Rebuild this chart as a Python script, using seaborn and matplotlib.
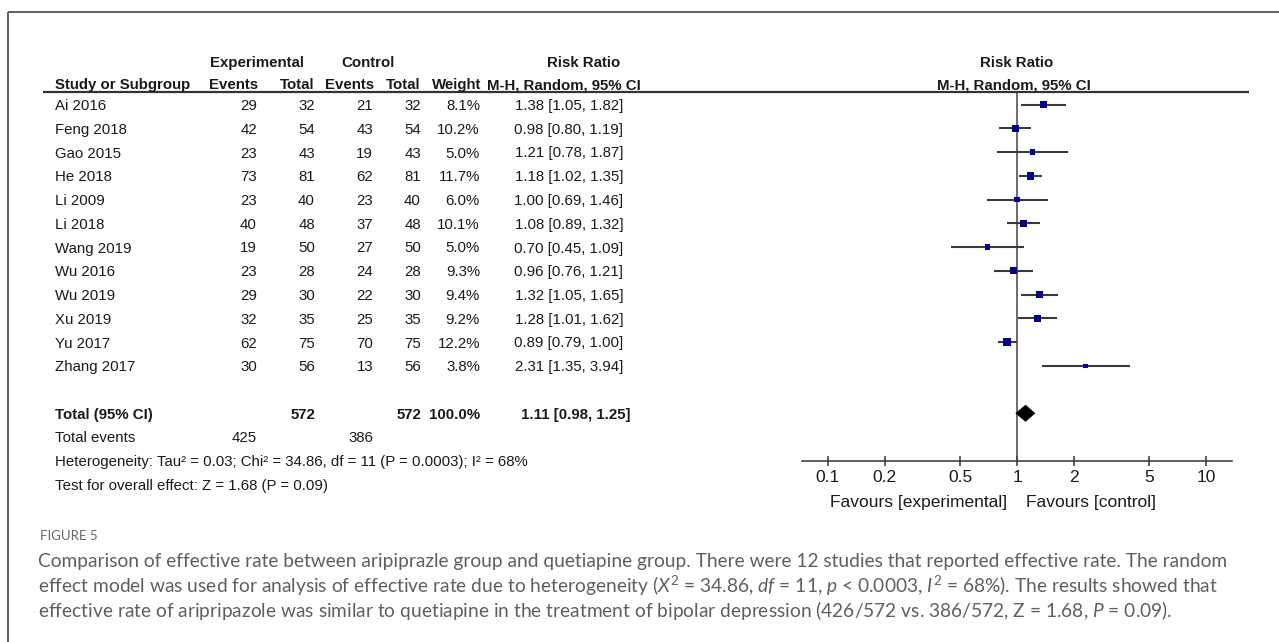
import numpy as np
import pandas as pd
import matplotlib
matplotlib.use("Agg")
import matplotlib.pyplot as plt
import seaborn as sns

# ---- study data -------------------------------------------------------------
studies = ["Ai 2016", "Feng 2018", "Gao 2015", "He 2018", "Li 2009", "Li 2018",
           "Wang 2019", "Wu 2016", "Wu 2019", "Xu 2019", "Yu 2017", "Zhang 2017"]
exp_events = [29, 42, 23, 73, 23, 40, 19, 23, 29, 32, 62, 30]
exp_total = [32, 54, 43, 81, 40, 48, 50, 28, 30, 35, 75, 56]
ctl_events = [21, 43, 19, 62, 23, 37, 27, 24, 22, 25, 70, 13]
ctl_total = [32, 54, 43, 81, 40, 48, 50, 28, 30, 35, 75, 56]
weight = [8.1, 10.2, 5.0, 11.7, 6.0, 10.1, 5.0, 9.3, 9.4, 9.2, 12.2, 3.8]
rr = [1.38, 0.98, 1.21, 1.18, 1.00, 1.08, 0.70, 0.96, 1.32, 1.28, 0.89, 2.31]
ci_lo = [1.05, 0.80, 0.78, 1.02, 0.69, 0.89, 0.45, 0.76, 1.05, 1.01, 0.79, 1.35]
ci_hi = [1.82, 1.19, 1.87, 1.35, 1.46, 1.32, 1.09, 1.21, 1.65, 1.62, 1.00, 3.94]

pooled_rr, pooled_lo, pooled_hi = 1.11, 0.98, 1.25
total_exp, total_ctl = 572, 572
events_exp, events_ctl = 425, 386
heterogeneity = "Heterogeneity: Tau² = 0.03; Chi² = 34.86, df = 11 (P = 0.0003); I² = 68%"
overall = "Test for overall effect: Z = 1.68 (P = 0.09)"

tick_values = [0.1, 0.2, 0.5, 1, 2, 5, 10]
tick_labels = ["0.1", "0.2", "0.5", "1", "2", "5", "10"]

df = pd.DataFrame({"study": studies, "rr": rr, "lo": ci_lo, "hi": ci_hi,
                   "weight": weight})
df["row"] = np.arange(len(df))
total_row = len(df) + 1

# ---- figure & layout (pixel based) ------------------------------------------
sns.set_theme(style="white")
plt.rcParams["font.family"] = ["Liberation Sans", "DejaVu Sans"]
plt.rcParams["mathtext.fontset"] = "custom"
plt.rcParams["mathtext.rm"] = "Lato"
plt.rcParams["mathtext.it"] = "Lato:italic"

W, H = 1279, 642
fig = plt.figure(figsize=(W / 100, H / 100), dpi=100)
bg = fig.add_axes([0, 0, 1, 1])
bg.set_xlim(0, W)
bg.set_ylim(H, 0)
bg.axis("off")

ROW0, ROWH = 104.5, 23.75      # y of first row and row pitch in px
def ry(i):
    return ROW0 + ROWH * i

TXT = "#1a1a1a"
FS = 10.8       # table text
FS_AX = 12.5    # forest-plot labels
DY = 1.5        # optical centring of text on its row

# frame
bg.plot([8, W], [12, 12], color="#444444", lw=1.2, solid_capstyle="butt")
bg.plot([8, 8], [12, H], color="#444444", lw=1.2, solid_capstyle="butt")

# header
hdr_y1, hdr_y2 = 63, 85
bold = dict(fontsize=FS, fontweight="bold", color=TXT, va="center")
bg.text(257, hdr_y1, "Experimental", ha="center", **bold)
bg.text(368, hdr_y1, "Control", ha="center", **bold)
bg.text(584, hdr_y1, "Risk Ratio", ha="center", **bold)
bg.text(1017, hdr_y1, "Risk Ratio", ha="center", **bold)
bg.text(55, hdr_y2, "Study or Subgroup", ha="left", **bold)
bg.text(258, hdr_y2, "Events", ha="right", **bold)
bg.text(315, hdr_y2, "Total", ha="right", **bold)
bg.text(374, hdr_y2, "Events", ha="right", **bold)
bg.text(421, hdr_y2, "Total", ha="right", **bold)
bg.text(481, hdr_y2, "Weight", ha="right", **bold)
bg.text(564, hdr_y2, "M-H, Random, 95% CI", ha="center", **bold)
bg.text(1014, hdr_y2, "M-H, Random, 95% CI", ha="center", **bold)
bg.plot([43, 1249], [92, 92], color="#333333", lw=1.6, solid_capstyle="butt")

# study rows
reg = dict(fontsize=FS, color=TXT, va="center")
for i, r in df.iterrows():
    y = ry(r["row"]) + DY
    bg.text(55, y, r["study"], ha="left", **reg)
    bg.text(257, y, f"{exp_events[i]}", ha="right", **reg)
    bg.text(315, y, f"{exp_total[i]}", ha="right", **reg)
    bg.text(373, y, f"{ctl_events[i]}", ha="right", **reg)
    bg.text(421, y, f"{ctl_total[i]}", ha="right", **reg)
    bg.text(480, y, f"{r['weight']:.1f}%", ha="right", **reg)
    bg.text(569, y, f"{r['rr']:.2f} [{r['lo']:.2f}, {r['hi']:.2f}]",
            ha="center", **reg)

# totals
yt = ry(total_row) + DY
bg.text(55, yt, "Total (95% CI)", ha="left", **bold)
bg.text(315, yt, f"{total_exp}", ha="right", **bold)
bg.text(421, yt, f"{total_ctl}", ha="right", **bold)
bg.text(480, yt, f"{sum(weight):.1f}%", ha="right", **bold)
bg.text(576, yt, f"{pooled_rr:.2f} [{pooled_lo:.2f}, {pooled_hi:.2f}]",
        ha="center", **bold)
bg.text(55, ry(total_row + 1) + DY, "Total events", ha="left", **reg)
bg.text(257, ry(total_row + 1) + DY, f"{events_exp}", ha="right", **reg)
bg.text(373, ry(total_row + 1) + DY, f"{events_ctl}", ha="right", **reg)
bg.text(55, ry(total_row + 2) + DY, heterogeneity, ha="left", **reg)
bg.text(55, ry(total_row + 3) + DY, overall, ha="left", **reg)

# ---- forest panel -----------------------------------------------------------
X0, X1, Y0, Y1 = 802, 1232, 92, 461
ax = fig.add_axes([X0 / W, (H - Y1) / H, (X1 - X0) / W, (Y1 - Y0) / H])
ax.set_facecolor("none")
ax.set_xscale("log")
dec = 189.0  # px per decade
ax.set_xlim(10 ** ((X0 - 1017) / dec), 10 ** ((X1 - 1017) / dec))
ax.set_ylim((Y1 - ROW0) / ROWH, (Y0 - ROW0) / ROWH)

ax.axvline(1, color="#444444", lw=1.1, zorder=1)
ax.hlines(df["row"], df["lo"], df["hi"], color="#3a3a3a", lw=1.5, zorder=2)
sns.scatterplot(data=df, x="rr", y="row", size="weight",
                sizes=(min(weight) * 2.7, max(weight) * 2.7),
                marker="s", color="#00008b", edgecolor="none",
                legend=False, ax=ax, zorder=3)

h = 0.36
ax.fill([pooled_lo, pooled_rr, pooled_hi, pooled_rr],
        [total_row, total_row - h, total_row, total_row + h],
        color="black", lw=0, zorder=3)

for s in ["top", "left", "right"]:
    ax.spines[s].set_visible(False)
ax.spines["bottom"].set_color("#333333")
ax.spines["bottom"].set_linewidth(1.1)
ax.set_xticks(tick_values)
ax.set_xticklabels(tick_labels)
ax.xaxis.set_minor_locator(matplotlib.ticker.NullLocator())
ax.tick_params(axis="x", direction="inout", length=7, width=1.1,
               color="#333333", labelsize=FS_AX, labelcolor=TXT, pad=3,
               bottom=True)
ax.set_yticks([])
ax.set_xlabel("")
ax.set_ylabel("")

bg.text(1007, 502, "Favours [experimental]", ha="right", va="center",
        fontsize=FS_AX, color=TXT)
bg.text(1026, 502, "Favours [control]", ha="left", va="center",
        fontsize=FS_AX, color=TXT)

# ---- caption ----------------------------------------------------------------
CAP = "#5f5f5f"
CAP_X = 38
bg.text(CAP_X + 2, 536, "FIGURE 5", ha="left", va="center", fontsize=9.5,
        color="#666666", family="Lato")
caption = [
    "Comparison of effective rate between aripiprazle group and quetiapine group. "
    "There were 12 studies that reported effective rate. The random",
    "effect model was used for analysis of effective rate due to heterogeneity "
    "($X^2$ = 34.86, $df$ = 11, $p$ < 0.0003, $I^2$ = 68%). The results showed that",
    "effective rate of aripripazole was similar to quetiapine in the treatment of "
    "bipolar depression (426/572 vs. 386/572, Z = 1.68, $P$ = 0.09).",
]
for k, line in enumerate(caption):
    bg.text(CAP_X, 562 + 24 * k, line, ha="left", va="center", fontsize=13.8,
            color=CAP, family="Lato")

fig.savefig("out.png", dpi=100)
